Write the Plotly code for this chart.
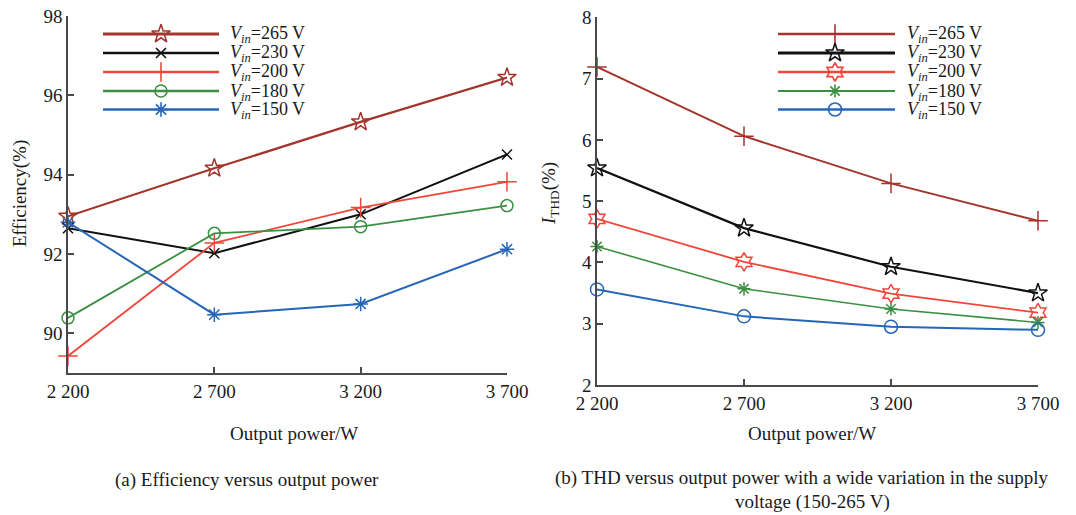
import plotly.graph_objects as go

# Output power levels (W)
power = [2200, 2700, 3200, 3700]
power_labels = ["2 200", "2 700", "3 200", "3 700"]

# Efficiency (%) for each input voltage
eff_265 = [92.95, 94.16, 95.33, 96.45]
eff_230 = [92.65, 92.02, 93.00, 94.51]
eff_200 = [89.43, 92.28, 93.17, 93.82]
eff_180 = [90.39, 92.52, 92.69, 93.22]
eff_150 = [92.80, 90.47, 90.74, 92.12]

# Input-current THD (%) for each input voltage
thd_265 = [7.19, 6.06, 5.29, 4.68]
thd_230 = [5.54, 4.56, 3.93, 3.50]
thd_200 = [4.71, 4.01, 3.49, 3.18]
thd_180 = [4.26, 3.57, 3.24, 3.02]
thd_150 = [3.56, 3.12, 2.95, 2.90]

voltages = ["265", "230", "200", "180", "150"]
eff_ticks = [90, 92, 94, 96, 98]
thd_ticks = [2, 3, 4, 5, 6, 7, 8]

W, H = 1076, 515
FONT = "Liberation Serif, Times New Roman, serif"
TXT = "#1a1a1a"
AXC = "#4a4a4a"

MAROON = "#a3352c"
BLACK = "#111111"
RED = "#f0463a"
GREEN = "#3a9040"
BLUE = "#2566b8"

def fx(x):
    return x / W

def fy(y):
    return 1 - y / H

# styling per series: (color, line width, marker symbol, marker size)
eff_styles = [
    (MAROON, 2.2, "star-open", 14),
    (BLACK, 2.0, "x-thin-open", 10),
    (RED, 1.8, "cross-thin-open", 14),
    (GREEN, 1.8, "circle-open", 12),
    (BLUE, 2.0, "asterisk-open", 12),
]
thd_styles = [
    (MAROON, 2.0, "cross-thin-open", 14),
    (BLACK, 2.2, "star-open", 14),
    (RED, 1.8, "hexagram-open", 14),
    (GREEN, 1.6, "asterisk-open", 11),
    (BLUE, 2.0, "circle-open", 13),
]

fig = go.Figure()

eff_series = [eff_265, eff_230, eff_200, eff_180, eff_150]
thd_series = [thd_265, thd_230, thd_200, thd_180, thd_150]

for ys, (c, lw, sym, ms) in zip(eff_series, eff_styles):
    fig.add_trace(go.Scatter(
        x=power, y=ys, mode="lines+markers", xaxis="x", yaxis="y",
        line=dict(color=c, width=lw),
        marker=dict(symbol=sym, size=ms, color=c, line=dict(color=c, width=1.5)),
        cliponaxis=False, showlegend=False))

for ys, (c, lw, sym, ms) in zip(thd_series, thd_styles):
    fig.add_trace(go.Scatter(
        x=power, y=ys, mode="lines+markers", xaxis="x2", yaxis="y2",
        line=dict(color=c, width=lw),
        marker=dict(symbol=sym, size=ms, color=c, line=dict(color=c, width=1.5)),
        cliponaxis=False, showlegend=False))

# Hand-drawn legends on a hidden pixel-space axis pair
legend_rows = [34, 53, 72, 91, 109.5]
legends = [
    (103, 219, 161, 228, eff_styles),
    (778, 895, 835, 905, thd_styles),
]
annotations = []
for x0, x1, xm, xt, styles in legends:
    for row, v, (c, lw, sym, ms) in zip(legend_rows, voltages, styles):
        fig.add_trace(go.Scatter(
            x=[x0, x1], y=[row, row], mode="lines", xaxis="x3", yaxis="y3",
            line=dict(color=c, width=lw + 0.6), showlegend=False, hoverinfo="skip"))
        fig.add_trace(go.Scatter(
            x=[xm], y=[row], mode="markers", xaxis="x3", yaxis="y3",
            marker=dict(symbol=sym, size=ms, color=c, line=dict(color=c, width=1.6)),
            showlegend=False, hoverinfo="skip", cliponaxis=False))
        annotations.append(dict(
            x=fx(xt), y=fy(row + 1), xref="paper", yref="paper",
            xanchor="left", yanchor="middle", showarrow=False,
            text="<i>V</i><sub><i>in</i></sub>=" + v + " V",
            font=dict(family=FONT, size=18, color=TXT)))

def text_ann(x, y, s, size=19, angle=0):
    return dict(x=fx(x), y=fy(y), xref="paper", yref="paper",
                xanchor="center", yanchor="middle", showarrow=False,
                text=s, textangle=angle,
                font=dict(family=FONT, size=size, color=TXT))

annotations += [
    text_ann(294, 433, "Output power/W"),
    text_ann(812, 433, "Output power/W"),
    text_ann(20, 194, "Efficiency(%)", angle=-90),
    text_ann(550, 194, "<i>I</i><sub>THD</sub>(%)", angle=-90),
    text_ann(247, 480, "(a) Efficiency versus output power"),
    text_ann(802, 478, "(b) THD versus output power with a wide variation in the supply"),
    text_ann(812, 502, "voltage (150-265 V)"),
]

axis_common = dict(
    showline=True, linecolor=AXC, linewidth=1.6, mirror=False,
    ticks="inside", ticklen=6, tickwidth=1.5, tickcolor=AXC,
    showgrid=False, zeroline=False, automargin=False,
    tickfont=dict(family=FONT, size=19, color=TXT),
)

fig.update_layout(
    width=W, height=H,
    margin=dict(l=0, r=0, t=0, b=0, autoexpand=False),
    paper_bgcolor="white", plot_bgcolor="rgba(0,0,0,0)",
    xaxis=dict(domain=[fx(68), fx(507)], range=[2200, 3700],
               tickvals=power, ticktext=power_labels, anchor="y", **axis_common),
    yaxis=dict(domain=[fy(373), fy(16)], range=[89, 98],
               tickvals=eff_ticks, anchor="x", **axis_common),
    xaxis2=dict(domain=[fx(597), fx(1038)], range=[2200, 3700],
                tickvals=power, ticktext=power_labels, anchor="y2", **axis_common),
    yaxis2=dict(domain=[fy(385), fy(17.3)], range=[2, 8],
                tickvals=thd_ticks, anchor="x2", **axis_common),
    xaxis3=dict(domain=[0, 1], range=[0, W], visible=False, anchor="y3"),
    yaxis3=dict(domain=[0, 1], range=[H, 0], visible=False, anchor="x3"),
    annotations=annotations,
    showlegend=False,
)

fig.write_html("out.html")
